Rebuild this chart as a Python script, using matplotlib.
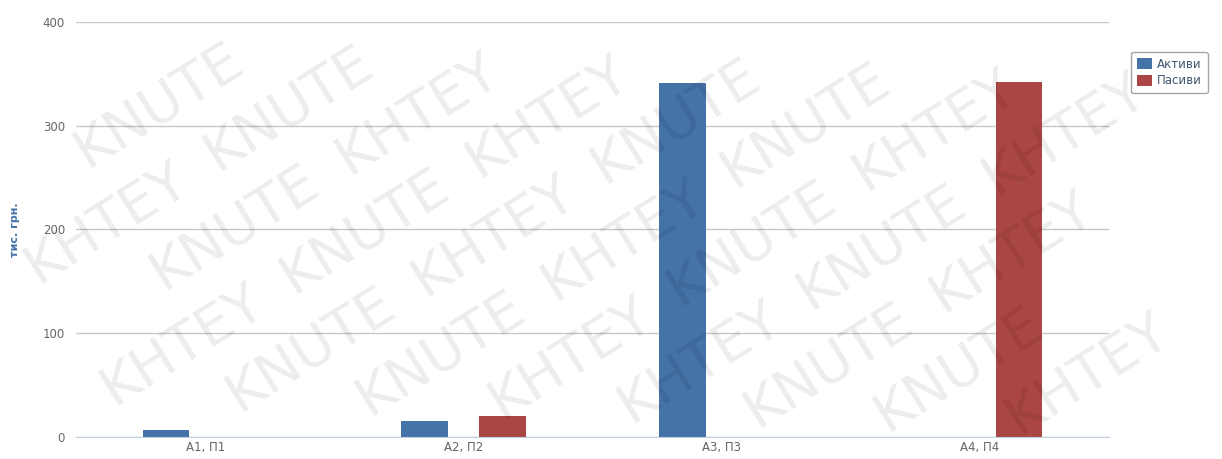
import numpy as np
import matplotlib.pyplot as plt

# дані з графіка
categories = ['A1, П1', 'A2, П2', 'A3, П3', 'A4, П4']
aktyvy = [7, 15, 341, 0]
pasyvy = [0, 20, 0, 342]

fig = plt.figure(figsize=(12.22, 4.59), dpi=100)
ax = fig.add_axes([76 / 1222, 22 / 459, 1033 / 1222, 415 / 459])

x = np.arange(len(categories))
w = 0.18
ax.bar(x - 0.151, aktyvy, w, color='#4572A7', label='Активи', zorder=3)
ax.bar(x + 0.151, pasyvy, w, color='#AA4643', label='Пасиви', zorder=3)

ax.set_xlim(-0.5, len(categories) - 0.5)
ax.set_ylim(0, 400)
ax.set_yticks([0, 100, 200, 300, 400])
ax.set_xticks(x)
ax.set_xticklabels(categories)
ax.tick_params(axis='y', length=0, labelsize=8.5, colors='#666666', pad=8)
ax.tick_params(axis='x', length=0, labelsize=8.5, colors='#666666', pad=3)
ax.grid(axis='y', color='#c8c8c8', linewidth=1, zorder=0)

for s in ['top', 'right', 'left']:
    ax.spines[s].set_visible(False)
ax.spines['bottom'].set_color('#c0d0e0')
ax.spines['bottom'].set_zorder(4)

fig.text(15 / 1222, 0.5, 'тис. грн.', rotation=90, color='#4572A7',
         fontsize=8, fontweight='bold', ha='center', va='center')

leg = fig.legend(loc='upper left', bbox_to_anchor=(1125 / 1222, 1 - 46 / 459),
                 fontsize=8.5, frameon=True, handlelength=1.3, handleheight=1.0,
                 borderpad=0.5, labelspacing=0.3, handletextpad=0.4, fancybox=True)
leg.get_frame().set_edgecolor('#909090')
for t in leg.get_texts():
    t.set_color('#3E576F')

# водяний знак: ряди під кутом, лише цілі написи
W, H = 1222.0, 459.0
ang = np.deg2rad(32)
d = np.array([np.cos(ang), np.sin(ang)])
n = np.array([-np.sin(ang), np.cos(ang)])
words = ['KNUTE', 'KHTEY']
marks = []
for j in range(-12, 12):
    for i in range(-4, 12):
        p = np.array([0.0, 0.0]) + (i * 215 + (j % 2) * 107) * d + j * 72 * n
        t = fig.text(p[0] / W, p[1] / H, words[(i + j) % 2], rotation=32,
                     fontsize=40, color='#000000', alpha=0.075,
                     ha='center', va='center', zorder=10)
        marks.append(t)

fig.canvas.draw()
renderer = fig.canvas.get_renderer()
for t in marks:
    bb = t.get_window_extent(renderer)
    if bb.x0 < 0 or bb.y0 < 0 or bb.x1 > W or bb.y1 > H:
        t.remove()

fig.savefig('out.png', dpi=100)
